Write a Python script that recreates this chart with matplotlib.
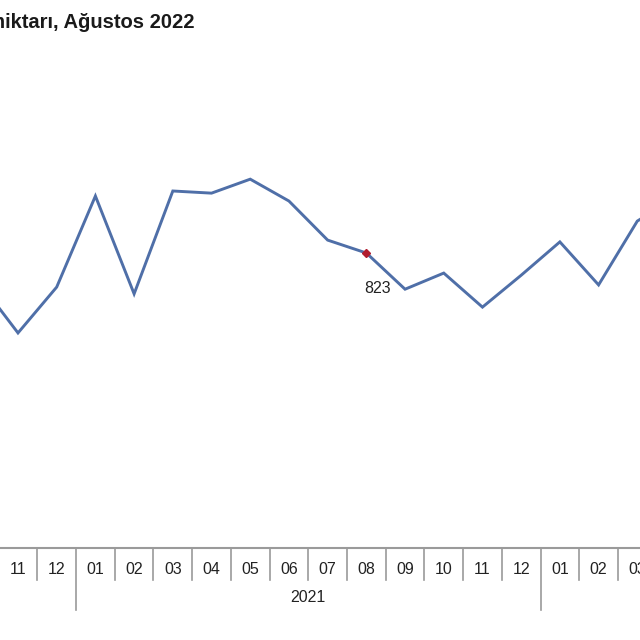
import matplotlib.pyplot as plt

# Toplanan inek sütü miktarı (bin ton), aylık
months = ["10", "11", "12", "01", "02", "03", "04", "05", "06",
          "07", "08", "09", "10", "11", "12", "01", "02", "03", "04"]
values = [742, 600, 728, 982, 709, 996, 990, 1029, 968,
          859, 823, 722, 767, 672, 761, 854, 734, 912, 980]
years = ["2021"]
year_bounds = [2.5, 14.5]   # yıl ayırıcıları (kategori arası)
year_centers = [8.5]
highlight = 10              # 08/2021 -> 823

plt.rcParams['font.family'] = ['Liberation Sans', 'DejaVu Sans']

fig = plt.figure(figsize=(6.4, 6.4), dpi=100)
H = 640.0
ax = fig.add_axes([0, 1 - 548 / H, 1, 548 / H])

x = list(range(len(values)))
ax.plot(x, values, color='#4f6fa8', lw=2.1, solid_joinstyle='miter')
ax.plot(highlight, values[highlight], 'D', color='#b01c2e', ms=3.8)
ax.annotate(str(values[highlight]), (highlight, values[highlight]),
            xytext=(11, -35), textcoords='offset pixels', ha='center', va='center',
            fontsize=11.5, color='#222222')

ax.set_xlim(0.535, 17.07)
ax.set_ylim(0, 548 / 0.35844)

for s in ['top', 'left', 'right']:
    ax.spines[s].set_visible(False)
ax.spines['bottom'].set_color('#9a9a9a')
ax.spines['bottom'].set_linewidth(1.5)
ax.set_xticks([])
ax.set_yticks([])

tr = ax.get_xaxis_transform()
axh = 548.0
# ay ayırıcıları
for i in range(len(months) - 1):
    b = i + 0.5
    depth = 62 if b in year_bounds else 32
    ax.plot([b, b], [0, -depth / axh], color='#9a9a9a', lw=1.2,
            transform=tr, clip_on=False)
# ay etiketleri
for i, m in enumerate(months):
    ax.text(i, -21 / axh, m, transform=tr, ha='center', va='center',
            fontsize=11.5, color='#222222', clip_on=False)
# yıl etiketleri
for c, y in zip(year_centers, years):
    ax.text(c, -50 / axh, y, transform=tr, ha='center', va='center',
            fontsize=11.5, color='#222222', clip_on=False)

fig.text(195 / 640, 1 - 23 / H, "Toplanan inek sütü miktarı, Ağustos 2022",
         ha='right', va='center', fontsize=14.5, fontweight='bold', color='#1a1a1a')

fig.savefig('out.png', dpi=100)
